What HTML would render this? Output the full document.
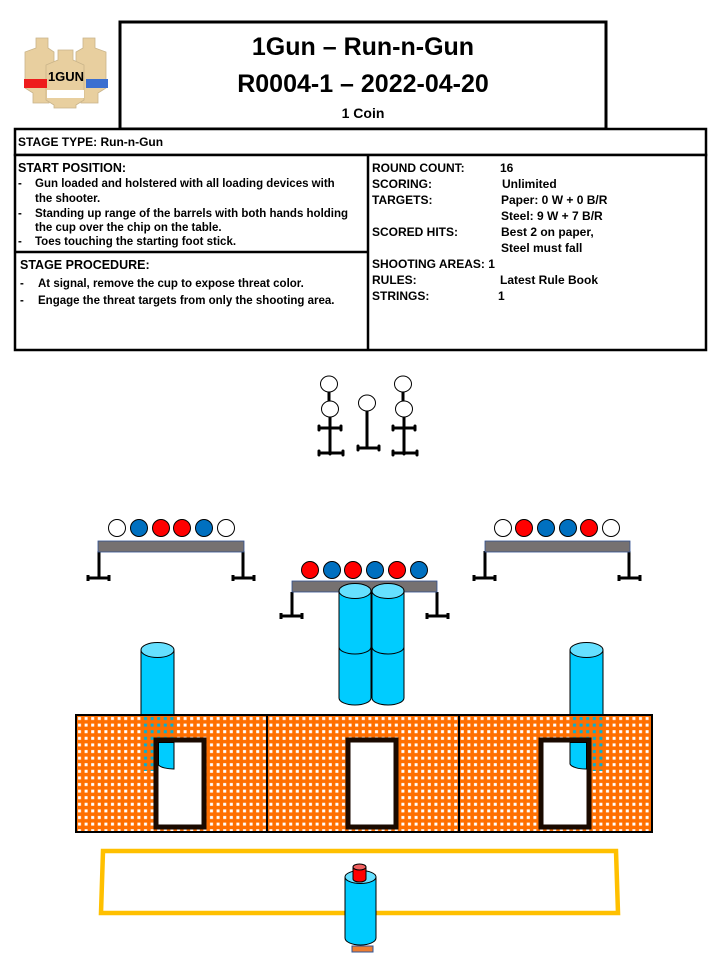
<!DOCTYPE html>
<html><head><meta charset="utf-8"><style>
body{margin:0;background:#fff;}
svg{display:block;}
text{font-family:"Liberation Sans",Arial,sans-serif;font-weight:bold;fill:#000;}
</style></head><body>
<svg width="720" height="960" viewBox="0 0 720 960" xmlns="http://www.w3.org/2000/svg">
<defs>
<pattern id="dots" x="76" y="715" width="6.6" height="6.6" patternUnits="userSpaceOnUse">
<rect width="6.6" height="6.6" fill="#ff6f00"/>
<rect x="2" y="2" width="3" height="3" fill="#fff"/>
</pattern>
<pattern id="dotsb" x="76" y="715" width="6.6" height="6.6" patternUnits="userSpaceOnUse">
<rect width="6.6" height="6.6" fill="#ff6f00"/>
<rect x="2" y="2" width="3" height="3" fill="#00b0d8"/>
</pattern>
</defs>

<!-- logo -->
<g stroke="#c9b48a" stroke-width="0.8" fill="#e8cf9f">
<path d="M36 38h12v10l6 4v36l-5 5v10H33v-10l-8-5V52l11-4z"/>
<path d="M83 38h12v10l11 4v36l-8 5v10H81v-10l-5-5V52l7-4z"/>
<path d="M58 50h15v10l11 5v35l-8 5v3H54v-3l-8-5V65l12-5z"/>
</g>
<rect x="24" y="79" width="23" height="9" fill="#ee1c1c"/>
<rect x="86" y="79" width="22" height="9" fill="#3b6fd0"/>
<rect x="47" y="90" width="37" height="8" fill="#fff"/>
<text x="66" y="81" font-size="13" text-anchor="middle">1GUN</text>

<!-- header -->
<rect x="120" y="22" width="486" height="107" fill="#fff" stroke="#000" stroke-width="3"/>
<text x="363" y="55" font-size="25" text-anchor="middle">1Gun – Run-n-Gun</text>
<text x="363" y="92" font-size="25" text-anchor="middle">R0004-1 – 2022-04-20</text>
<text x="363" y="118" font-size="14" text-anchor="middle">1 Coin</text>

<!-- info boxes -->
<rect x="15" y="129" width="691" height="26" fill="#fff" stroke="#000" stroke-width="2.5"/>
<text x="18" y="146" font-size="12">STAGE TYPE: Run-n-Gun</text>
<rect x="15" y="155" width="691" height="195" fill="#fff" stroke="#000" stroke-width="2.5"/>
<line x1="368" y1="155" x2="368" y2="350" stroke="#000" stroke-width="2.5"/>
<line x1="15" y1="252" x2="368" y2="252" stroke="#000" stroke-width="2.5"/>
<g font-size="11.5">
<text x="18" y="172" font-size="12.5">START POSITION:</text>
<text x="18" y="187">-</text><text x="35" y="187">Gun loaded and holstered with all loading devices with</text>
<text x="35" y="202">the shooter.</text>
<text x="18" y="217">-</text><text x="35" y="217">Standing up range of the barrels with both hands holding</text>
<text x="35" y="231">the cup over the chip on the table.</text>
<text x="18" y="245">-</text><text x="35" y="245">Toes touching the starting foot stick.</text>
<text x="20" y="269" font-size="12.5">STAGE PROCEDURE:</text>
<text x="20" y="287">-</text><text x="38" y="287">At signal, remove the cup to expose threat color.</text>
<text x="20" y="304">-</text><text x="38" y="304">Engage the threat targets from only the shooting area.</text>
</g>
<g font-size="12">
<text x="372" y="172">ROUND COUNT:</text><text x="500" y="172">16</text>
<text x="372" y="188">SCORING:</text><text x="502" y="188">Unlimited</text>
<text x="372" y="204">TARGETS:</text><text x="501" y="204">Paper: 0 W + 0 B/R</text>
<text x="501" y="220">Steel:  9 W + 7 B/R</text>
<text x="372" y="236">SCORED HITS:</text><text x="501" y="236">Best 2 on paper,</text>
<text x="501" y="252">Steel must fall</text>
<text x="372" y="268">SHOOTING AREAS: 1</text>
<text x="372" y="284">RULES:</text><text x="500" y="284">Latest Rule Book</text>
<text x="372" y="300">STRINGS:</text><text x="498" y="300">1</text>
</g>

<!-- poppers -->
<g stroke="#000" stroke-width="3" fill="none" stroke-linecap="round">
<path d="M329 392V401M330 417V454M320 428h20M320 453h22M319 426v4M341 426v4M319 451v4M343 451v4"/>
<path d="M367 411V448M359 448h20M358 446v4M379 446v4"/>
<path d="M403 392V401M404 417V454M394 428h20M394 453h22M393 426v4M415 426v4M393 451v4M417 451v4"/>
</g>
<g fill="#fff" stroke="#000" stroke-width="1">
<ellipse cx="329" cy="384" rx="8.5" ry="8"/><ellipse cx="330" cy="409" rx="8.5" ry="8"/>
<ellipse cx="367" cy="403" rx="8.5" ry="8"/>
<ellipse cx="403" cy="384" rx="8.5" ry="8"/><ellipse cx="404" cy="409" rx="8.5" ry="8"/>
</g>

<!-- racks -->
<g stroke="#000" stroke-width="3" fill="none">
<path d="M99 551V578M89 578h20M88 575v6M109 575v6M243 551V578M234 578h20M233 575v6M254 575v6"/>
<path d="M485 551V578M475 578h20M474 575v6M495 575v6M629 551V578M620 578h20M619 575v6M640 575v6"/>
<path d="M292 592V616M282 616h20M281 613v6M302 613v6M437 592V616M428 616h20M427 613v6M448 613v6"/>
</g>
<rect x="98" y="541" width="146" height="11" fill="#767171" stroke="#2f4f8f" stroke-width="0.8"/>
<rect x="485" y="541" width="145" height="11" fill="#767171" stroke="#2f4f8f" stroke-width="0.8"/>
<rect x="292" y="581" width="145" height="11" fill="#767171" stroke="#2f4f8f" stroke-width="0.8"/>
<g stroke="#000" stroke-width="1">
<circle cx="117" cy="528" r="8.5" fill="#fff"/><circle cx="139" cy="528" r="8.5" fill="#0070c0"/><circle cx="161" cy="528" r="8.5" fill="#f00"/><circle cx="182" cy="528" r="8.5" fill="#f00"/><circle cx="204" cy="528" r="8.5" fill="#0070c0"/><circle cx="226" cy="528" r="8.5" fill="#fff"/>
<circle cx="503" cy="528" r="8.5" fill="#fff"/><circle cx="524" cy="528" r="8.5" fill="#f00"/><circle cx="546" cy="528" r="8.5" fill="#0070c0"/><circle cx="568" cy="528" r="8.5" fill="#0070c0"/><circle cx="589" cy="528" r="8.5" fill="#f00"/><circle cx="611" cy="528" r="8.5" fill="#fff"/>
<circle cx="310" cy="570" r="8.5" fill="#f00"/><circle cx="332" cy="570" r="8.5" fill="#0070c0"/><circle cx="353" cy="570" r="8.5" fill="#f00"/><circle cx="375" cy="570" r="8.5" fill="#0070c0"/><circle cx="397" cy="570" r="8.5" fill="#f00"/><circle cx="419" cy="570" r="8.5" fill="#0070c0"/>
</g>

<!-- barrels -->
<g stroke="#000" stroke-width="1">
<path d="M339 591V698A16 7 0 0 0 371 698V591Z" fill="#00ccff"/>
<path d="M339 647A16 7 0 0 0 371 647" fill="none"/>
<ellipse cx="355" cy="591" rx="16" ry="7.5" fill="#66e0ff"/>
<path d="M372 591V698A16 7 0 0 0 404 698V591Z" fill="#00ccff"/>
<path d="M372 647A16 7 0 0 0 404 647" fill="none"/>
<ellipse cx="388" cy="591" rx="16" ry="7.5" fill="#66e0ff"/>
<path d="M141 650V763A16.5 7 0 0 0 174 763V650Z" fill="#00ccff"/>
<ellipse cx="157.5" cy="650" rx="16.5" ry="7.5" fill="#66e0ff"/>
<path d="M570 650V763A16.5 7 0 0 0 603 763V650Z" fill="#00ccff"/>
<ellipse cx="586.5" cy="650" rx="16.5" ry="7.5" fill="#66e0ff"/>
</g>

<!-- wall -->
<rect x="76" y="715" width="576" height="117" fill="url(#dots)" stroke="#000" stroke-width="2"/>
<rect x="141" y="716" width="33" height="55" fill="url(#dotsb)"/>
<rect x="570" y="716" width="33" height="55" fill="url(#dotsb)"/>
<line x1="267" y1="715" x2="267" y2="832" stroke="#000" stroke-width="2"/>
<line x1="459" y1="715" x2="459" y2="832" stroke="#000" stroke-width="2"/>
<rect x="156" y="740" width="48" height="87" fill="#fff" stroke="#1a0a00" stroke-width="5"/>
<rect x="348" y="740" width="48" height="87" fill="#fff" stroke="#1a0a00" stroke-width="5"/>
<rect x="541" y="740" width="48" height="87" fill="#fff" stroke="#1a0a00" stroke-width="5"/>
<path d="M158.5 742.5V765A16 6 0 0 0 174 769V742.5Z" fill="#00ccff" stroke="#000" stroke-width="1"/>
<path d="M570 742.5V764A16 6 0 0 0 586.5 769V742.5Z" fill="#00ccff" stroke="#000" stroke-width="1"/>

<!-- fault box -->
<path d="M103 851H616L618 913H101Z" fill="none" stroke="#ffc000" stroke-width="4.5"/>

<!-- shooter barrel -->
<g stroke="#000" stroke-width="1">
<path d="M345 877V938A15.5 7 0 0 0 376 938V877Z" fill="#00ccff"/>
<ellipse cx="360.5" cy="877" rx="15.5" ry="6.5" fill="#66e0ff"/>
<path d="M353 867V879A6.5 3 0 0 0 366 879V867Z" fill="#f00"/>
<ellipse cx="359.5" cy="867" rx="6.5" ry="3" fill="#f06060"/>
</g>
<rect x="352" y="946" width="21" height="6" fill="#ed7d31" stroke="#2f5597" stroke-width="1"/>
</svg>
</body></html>
